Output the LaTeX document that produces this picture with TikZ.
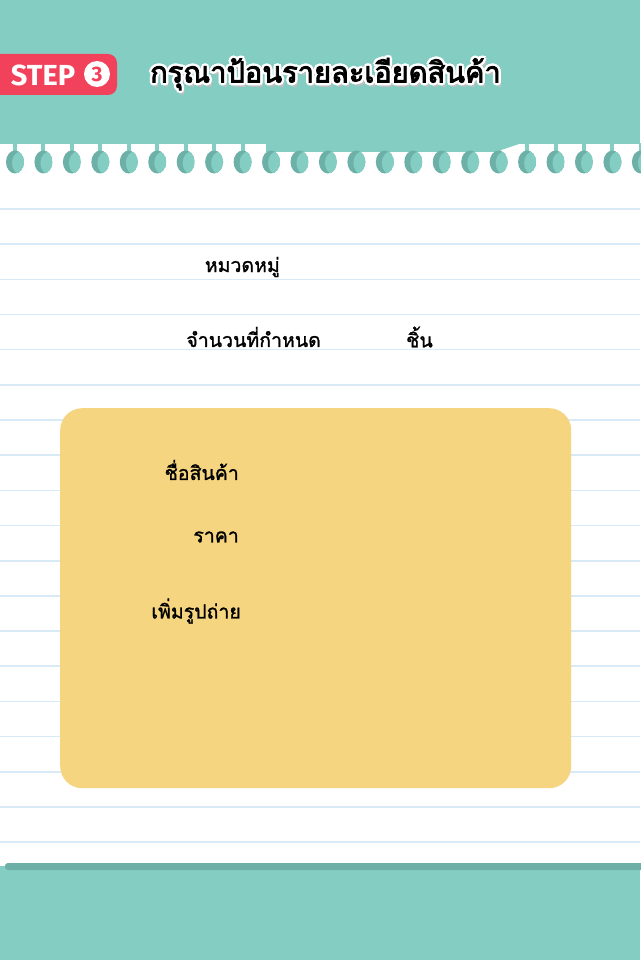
\documentclass[tikz,border=0pt]{standalone}
\usepackage{fontspec}
\setmainfont{Fira Sans}
\newfontfamily\thaimed[Script=Thai,FakeBold=1.3]{Loma}
\newfontfamily\thaibold[Script=Thai,FakeBold=3]{Loma}
\definecolor{tealbg}{HTML}{84CDC2}
\definecolor{tealdark}{HTML}{6DB0A7}
\definecolor{ruleblue}{HTML}{D8EAF6}
\definecolor{cardyellow}{HTML}{F5D580}
\definecolor{stepred}{HTML}{F2415B}
\tikzset{
  ruleline/.style={draw=ruleblue, line width=1.6pt},
  cardbox/.style={fill=cardyellow, rounded corners=22pt, minimum width=511pt, minimum height=380pt, anchor=north west, inner sep=0pt},
  lbl/.style={font=\thaimed\fontsize{19.5}{24}\selectfont, text=black, inner sep=0pt},
  titletxt/.style={font=\thaibold\fontsize{29}{34}\selectfont, inner sep=0pt, anchor=west},
  halo/.style={titletxt, text=white},
}
\begin{document}
\begin{tikzpicture}[x=1pt,y=-1pt]
\useasboundingbox (0,0) rectangle (640,960);
\fill[white] (0,0) rectangle (640,960);
% top teal band
\fill[tealbg] (0,0) rectangle (640,144);
\fill[tealbg] (266,143) -- (266,152) -- (495,152) -- (522,143) -- cycle;
% ruled lines
\foreach \k in {0,...,18}{
  \draw[ruleline] (0,{209+35.17*\k}) -- (640,{209+35.17*\k});
}
% binder holes
\foreach \k in {0,...,22}{
  \pgfmathsetmacro{\hx}{15+28.45*\k}
  \fill[tealbg] (\hx-2,143) rectangle (\hx+2,153);
  \begin{scope}
    \clip (\hx,162) ellipse [x radius=9, y radius=11.5];
    \fill[tealdark] (\hx,162) ellipse [x radius=9, y radius=11.5];
    \fill[tealbg] (\hx+6,163) ellipse [x radius=9, y radius=11.5];
  \end{scope}
}
% bottom teal
\fill[tealbg] (0,866) rectangle (640,960);
\fill[tealdark, rounded corners=3pt] (5,863) rectangle (645,870);
% step badge
\fill[stepred, rounded corners=9pt] (-20,54) rectangle (117,95);
\node[text=white, font=\bfseries\fontsize{29}{32}\selectfont, inner sep=0pt] (steptext) at (43,75) {STEP};
\node[circle, fill=white, minimum size=26pt, inner sep=0pt] (stepcircle) at (97,74) {};
\node[text=stepred, font=\bfseries\fontsize{21}{24}\selectfont, inner sep=0pt] (stepnum) at (stepcircle) {3};
% title with shadow and white outline
\node[titletxt, text=black!25] (titleshadow) at (152.5,78) {\color{black!25}กรุณาป้อนรายละเอียดสินค้า};
\node[halo] (titleo1) at (152.5,74) {\color{white}กรุณาป้อนรายละเอียดสินค้า};
\node[halo] (titleo2) at (147.5,74) {\color{white}กรุณาป้อนรายละเอียดสินค้า};
\node[halo] (titleo3) at (150,76.5) {\color{white}กรุณาป้อนรายละเอียดสินค้า};
\node[halo] (titleo4) at (150,71.5) {\color{white}กรุณาป้อนรายละเอียดสินค้า};
\node[halo] (titleo5) at (151.8,75.8) {\color{white}กรุณาป้อนรายละเอียดสินค้า};
\node[halo] (titleo6) at (148.2,75.8) {\color{white}กรุณาป้อนรายละเอียดสินค้า};
\node[halo] (titleo7) at (151.8,72.2) {\color{white}กรุณาป้อนรายละเอียดสินค้า};
\node[halo] (titleo8) at (148.2,72.2) {\color{white}กรุณาป้อนรายละเอียดสินค้า};
\node[titletxt, text=black] (title) at (150,74) {\color{black}กรุณาป้อนรายละเอียดสินค้า};
% labels
\node[lbl, anchor=east] (category) at (280,267) {หมวดหมู่};
\node[lbl, anchor=east] (quantity) at (321,337) {จำนวนที่กำหนด};
\node[lbl, anchor=west] (unit) at (406,337) {ชิ้น};
% card
\node[cardbox] (card) at (60,408) {};
\node[lbl, anchor=east] (pname) at (239,470) {ชื่อสินค้า};
\node[lbl, anchor=east] (price) at (239,537) {ราคา};
\node[lbl, anchor=east] (photo) at (241,611) {เพิ่มรูปถ่าย};
\end{tikzpicture}
\end{document}
